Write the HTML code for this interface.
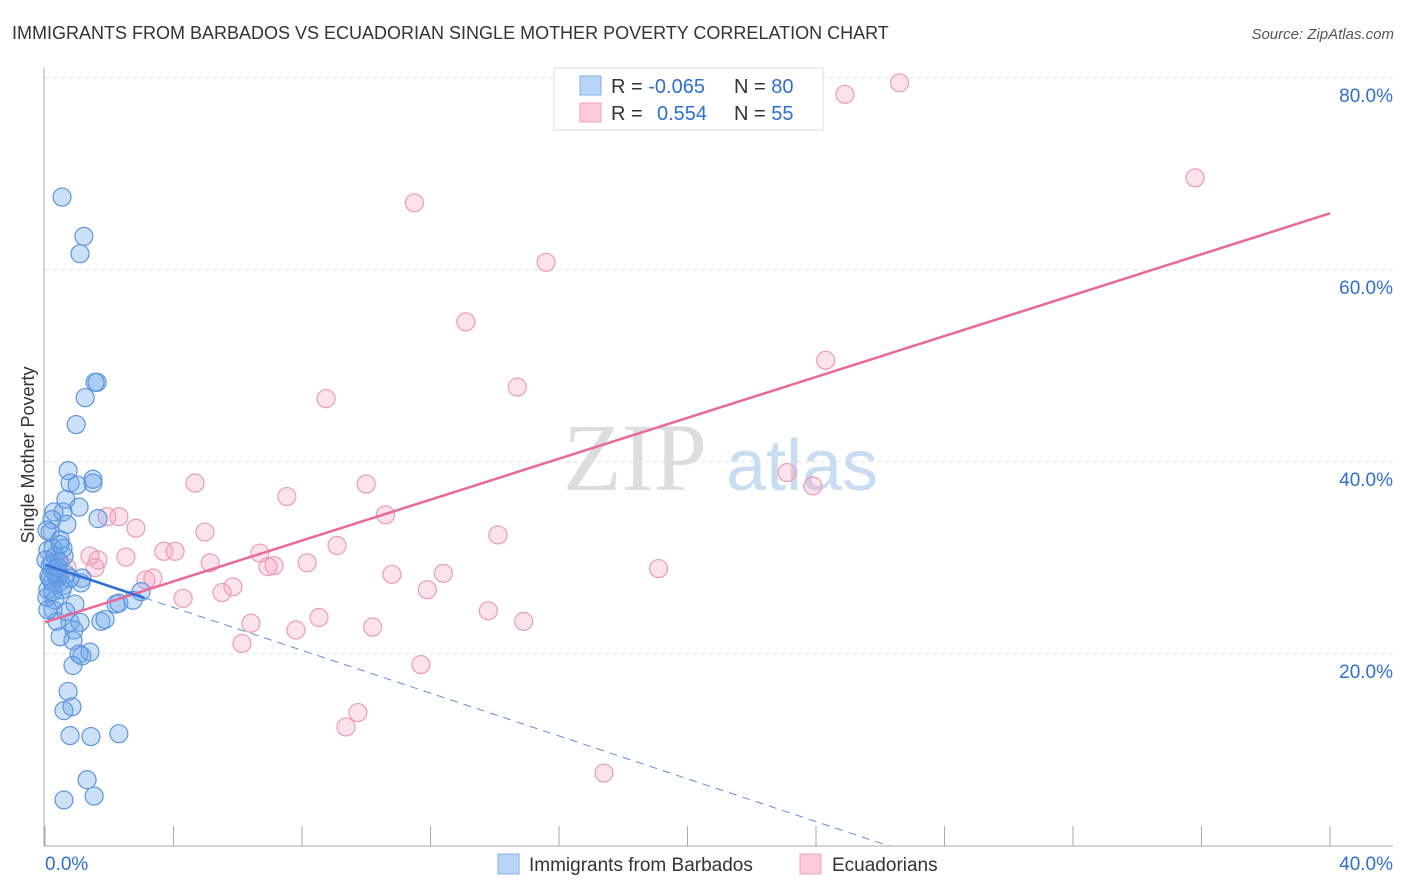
<!DOCTYPE html>
<html><head><meta charset="utf-8"><style>
body{margin:0;background:#fff;font-family:"Liberation Sans",sans-serif;}
svg{display:block}
</style></head><body>
<svg id="chart" width="1406" height="892">
<text x="12" y="39" font-size="18" fill="#333">IMMIGRANTS FROM BARBADOS VS ECUADORIAN SINGLE MOTHER POVERTY CORRELATION CHART</text>
<text x="1394" y="39" font-size="15" fill="#555" font-style="italic" text-anchor="end">Source: ZipAtlas.com</text>
<g>
<text x="635" y="490" font-size="96" font-family="Liberation Serif,serif" fill="#ddd" text-anchor="middle">ZIP</text>
<text x="802" y="490" font-size="72" fill="#c8dcf2" text-anchor="middle">atlas</text>
</g>
<g id="grid"></g>
<g id="axes"></g>
<g id="pts"></g>
<g id="lines"></g>
<text transform="translate(34,455) rotate(-90)" font-size="18" fill="#333" text-anchor="middle">Single Mother Poverty</text>
<g>
<rect x="554" y="68" width="269" height="62" fill="#fff" stroke="#ddd"/>
<rect x="580" y="76" width="21" height="19" fill="#b8d4f6" stroke="#7fb0ea"/>
<rect x="580" y="103" width="21" height="19" fill="#fbcadb" stroke="#f0a0bc"/>
<text x="611" y="93" font-size="20" fill="#333">R = <tspan fill="#2f6fd0">-0.065</tspan></text>
<text x="734" y="93" font-size="20" fill="#333">N = <tspan fill="#2f6fd0">80</tspan></text>
<text x="611" y="120" font-size="20" fill="#333">R = <tspan fill="#2f6fd0" x="657">0.554</tspan></text>
<text x="734" y="120" font-size="20" fill="#333">N = <tspan fill="#2f6fd0">55</tspan></text>
</g>
<g>
<rect x="498" y="854" width="21" height="20" fill="#b8d4f6" stroke="#7fb0ea"/>
<text x="529" y="871" font-size="19" fill="#333">Immigrants from Barbados</text>
<rect x="800" y="854" width="21" height="20" fill="#fbcadb" stroke="#f0a0bc"/>
<text x="832" y="871" font-size="19" fill="#333">Ecuadorians</text>
</g>
</svg>
<script>
const yTicks=[20,40,60,80];
const yTickLabels=["20.0%","40.0%","60.0%","80.0%"];
const xTicks=[0,4,8,12,16,20,24,28,32,36,40];
const blueX=[0.53,1.21,1.09,1.62,1.56,1.25,0.97,0.72,0.78,1.49,1.49,1.00,0.65,1.06,0.28,0.56,1.65,0.68,0.22,0.16,0.47,0.25,0.09,0.56,0.59,0.31,0.16,0.34,0.12,0.37,0.22,0.47,1.15,1.12,0.56,0.09,0.06,0.25,0.93,0.37,0.78,1.09,1.74,1.87,2.21,2.30,2.74,2.99,0.90,0.47,0.87,1.06,1.40,1.15,0.87,0.72,0.84,0.59,0.78,1.43,2.30,1.31,0.59,1.53,0.22,0.40,0.31,0.16,0.03,0.44,0.65,0.53,0.06,0.31,0.78,0.25,0.65,0.47,0.09,0.40];
const blueY=[67.6,63.5,61.7,48.3,48.3,46.7,43.9,39.1,37.8,38.2,37.8,37.6,36.1,35.3,34.8,34.8,34.1,33.5,34.0,32.7,31.9,31.0,30.8,31.0,30.2,30.2,29.2,28.8,28.1,27.9,27.5,27.5,27.9,27.4,27.1,26.7,25.9,24.6,25.2,23.4,23.3,23.3,23.4,23.6,25.2,25.3,25.6,26.5,22.5,21.8,21.4,20.0,20.2,19.8,18.8,16.1,14.5,14.1,11.5,11.4,11.7,6.9,4.8,5.2,29.4,28.3,28.5,27.9,29.8,29.6,28.3,26.7,32.9,25.6,27.9,26.5,24.4,31.4,24.6,29.0];
const pinkX=[26.6,24.9,35.8,11.5,15.6,13.1,24.3,14.7,8.75,23.1,23.9,4.67,10.0,7.53,10.6,2.30,1.93,2.83,4.98,9.09,3.70,4.05,1.40,2.52,1.65,6.69,5.14,8.16,7.13,6.94,14.1,12.4,10.8,19.1,3.36,3.14,5.85,5.51,11.9,4.30,13.8,8.53,6.41,7.81,10.2,14.9,6.13,11.7,9.74,9.37,17.4,0.68,0.47,0.37,1.56];
const pinkY=[79.5,78.3,69.6,67.0,60.8,54.6,50.6,47.8,46.6,38.9,37.5,37.8,37.7,36.4,34.5,34.3,34.3,33.1,32.7,31.3,30.7,30.7,30.2,30.1,29.8,30.5,29.5,29.5,29.2,29.1,32.4,28.4,28.3,28.9,27.9,27.7,27.0,26.4,26.7,25.8,24.5,23.8,23.2,22.5,22.8,23.4,21.1,18.9,13.9,12.4,7.6,29.0,28.2,29.8,29.0];
const blueFit=[29.3,-1.115];   // intercept, slope
const pinkFit=[23.3,1.065];
const sx=v=>45+v*1285/40;
const sy=v=>846-v*9.6;
const NS="http://www.w3.org/2000/svg";
function mk(t,a,p){const e=document.createElementNS(NS,t);for(const k in a)e.setAttribute(k,a[k]);p.appendChild(e);return e;}
const grid=document.getElementById('grid'),axes=document.getElementById('axes'),pts=document.getElementById('pts'),lines=document.getElementById('lines');
yTicks.forEach((t,i)=>{
 const l=mk('line',{x1:45,x2:1393,y1:sy(t),y2:sy(t),stroke:'#ddd','stroke-dasharray':'4,4'},grid);
 
 
 const tx=mk('text',{x:1393,y:sy(t)+24,'font-size':19,fill:'#2f6fd0','text-anchor':'end'},axes);
 tx.textContent=yTickLabels[i];
 
 
});
const ax=mk('line',{x1:44,x2:44,y1:68,y2:846,stroke:'#aaa'},axes);


const bx=mk('line',{x1:44,x2:1393,y1:846,y2:846,stroke:'#aaa'},axes);


xTicks.forEach(t=>{
 const l=mk('line',{x1:sx(t),x2:sx(t),y1:826,y2:846,stroke:'#aaa'},axes);
 
 
});
[[0,"0.0%",'start',45],[40,"40.0%",'end',1393]].forEach(d=>{
 const tx=mk('text',{x:d[3],y:870,'font-size':19,fill:'#2f6fd0','text-anchor':d[2]},axes);
 tx.textContent=d[1];
 
 
});
pinkX.forEach((x,i)=>{
 const c=mk('circle',{cx:sx(x),cy:sy(pinkY[i]),r:9,fill:'rgba(244,160,190,0.3)',stroke:'#eb9bb8','stroke-width':1.2},pts);
 
 
});
blueX.forEach((x,i)=>{
 const c=mk('circle',{cx:sx(x),cy:sy(blueY[i]),r:9,fill:'rgba(110,165,235,0.35)',stroke:'#5d95dd','stroke-width':1.2},pts);
 
 
});
const f=(p,x)=>p[0]+p[1]*x;
const pl=mk('line',{x1:sx(0),y1:sy(f(pinkFit,0)),x2:sx(40),y2:sy(f(pinkFit,40)),stroke:'#e8699a','stroke-width':2.5},lines);


const xEnd=-blueFit[0]/blueFit[1];
const bd=mk('line',{x1:sx(3.1),y1:sy(f(blueFit,3.1)),x2:sx(xEnd),y2:sy(0),stroke:'#5d8fd8','stroke-width':1,'stroke-dasharray':'8,6'},lines);


const bl=mk('line',{x1:sx(0),y1:sy(f(blueFit,0)),x2:sx(3.1),y2:sy(f(blueFit,3.1)),stroke:'#2d6fd6','stroke-width':2.5},lines);


</script>
</body></html>
